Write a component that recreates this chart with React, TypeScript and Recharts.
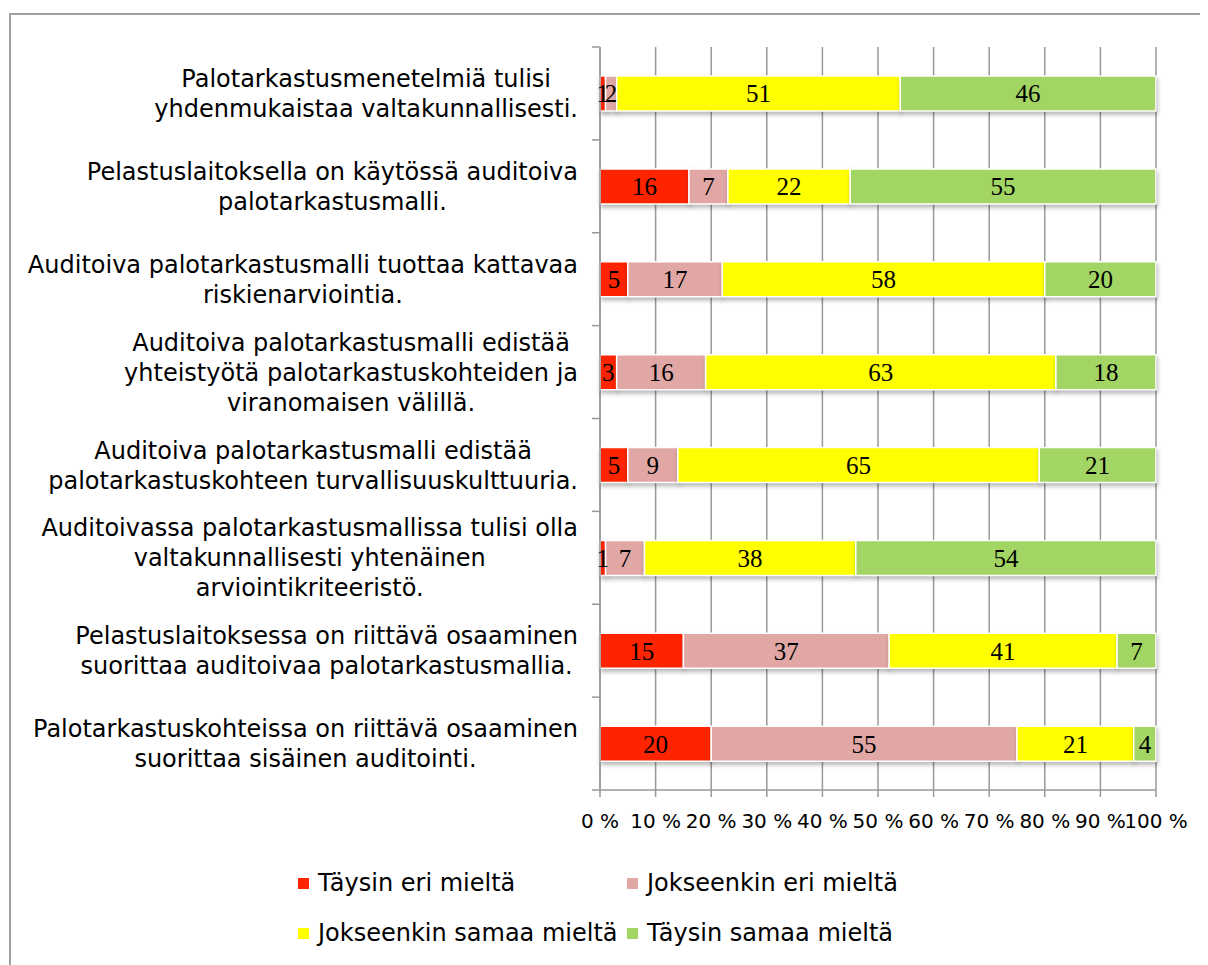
import React from "react";
import { BarChart, Bar, XAxis, YAxis, CartesianGrid, LabelList } from "recharts";

// väittämät (rivinvaihdot kuten alkuperäisessä kuvassa)
const categories = [
  "Palotarkastusmenetelmiä tulisi\nyhdenmukaistaa valtakunnallisesti.",
  "Pelastuslaitoksella on käytössä auditoiva\npalotarkastusmalli.",
  "Auditoiva palotarkastusmalli tuottaa kattavaa\nriskienarviointia.",
  "Auditoiva palotarkastusmalli edistää\nyhteistyötä palotarkastuskohteiden ja\nviranomaisen välillä.",
  "Auditoiva palotarkastusmalli edistää\npalotarkastuskohteen turvallisuuskulttuuria.",
  "Auditoivassa palotarkastusmallissa tulisi olla\nvaltakunnallisesti yhtenäinen\narviointikriteeristö.",
  "Pelastuslaitoksessa on riittävä osaaminen\nsuorittaa auditoivaa palotarkastusmallia.",
  "Palotarkastuskohteissa on riittävä osaaminen\nsuorittaa sisäinen auditointi.",
];

const taysinEri = [1, 16, 5, 3, 5, 1, 15, 20];
const jokseenkinEri = [2, 7, 17, 16, 9, 7, 37, 55];
const jokseenkinSamaa = [51, 22, 58, 63, 65, 38, 41, 21];
const taysinSamaa = [46, 55, 20, 18, 21, 54, 7, 4];

const seriesNames = [
  "Täysin eri mieltä",
  "Jokseenkin eri mieltä",
  "Jokseenkin samaa mieltä",
  "Täysin samaa mieltä",
];
const seriesKeys = ["te", "je", "js", "ts"];
const seriesColors = ["#FF2400", "#E0A7A5", "#FFFF00", "#A2D563"];

const xTicks = [0, 10, 20, 30, 40, 50, 60, 70, 80, 90, 100];

const data = categories.map((name, i) => ({
  name,
  te: taysinEri[i],
  je: jokseenkinEri[i],
  js: jokseenkinSamaa[i],
  ts: taysinSamaa[i],
}));

const SANS = '"DejaVu Sans", Verdana, sans-serif';
const SERIF = '"Liberation Serif", "Times New Roman", serif';
const AXIS = "#999999";
const LABEL_SIZE = 24;
const LINE_H = 30;
const PLOT_LEFT = 592; // y-akselin kohta (chart coords)
const TEXT_RIGHT = 570;

let ctx: CanvasRenderingContext2D | null = null;
function textWidth(s: string) {
  if (!ctx) ctx = document.createElement("canvas").getContext("2d");
  if (!ctx) return s.length * 12;
  ctx.font = `${LABEL_SIZE}px ${SANS}`;
  return ctx.measureText(s).width;
}

function CategoryTick(props: any) {
  const { y, payload, index, visibleTicksCount } = props;
  const lines = String(payload.value).split("\n");
  const maxW = Math.max(...lines.map(textWidth));
  const cx = TEXT_RIGHT - maxW / 2;
  const half = payload.offset || 46.4;
  const top = y - ((lines.length - 1) * LINE_H) / 2;
  return (
    <g>
      <line x1={PLOT_LEFT - 8} x2={PLOT_LEFT} y1={y - half} y2={y - half} stroke={AXIS} strokeWidth={1.5} />
      {index === visibleTicksCount - 1 && (
        <line x1={PLOT_LEFT - 8} x2={PLOT_LEFT} y1={y + half} y2={y + half} stroke={AXIS} strokeWidth={1.5} />
      )}
      <text textAnchor="middle" fontFamily={SANS} fontSize={LABEL_SIZE} fill="#000">
        {lines.map((l, i) => (
          <tspan key={i} x={cx} y={top + i * LINE_H} dy="0.36em">
            {l}
          </tspan>
        ))}
      </text>
    </g>
  );
}

function Legend() {
  const cols = [290, 619];
  const rows = [875, 925];
  return (
    <>
      {seriesNames.map((n, i) => (
        <div
          key={n}
          style={{
            position: "absolute",
            left: cols[i % 2],
            top: rows[Math.floor(i / 2)] - 14,
            height: 28,
            display: "flex",
            alignItems: "center",
            fontFamily: SANS,
            fontSize: 24,
            color: "#000",
            whiteSpace: "nowrap",
          }}
        >
          <span style={{ width: 11, height: 11, background: seriesColors[i], marginRight: 9, display: "inline-block" }} />
          {n}
        </div>
      ))}
    </>
  );
}

export default function App() {
  return (
    <div style={{ position: "relative", width: 1200, height: 957 }}>
      <style>{`.shadowed .recharts-bar-rectangle path { filter: drop-shadow(1px 3px 2px rgba(0,0,0,0.28)); }`}</style>
      <div
        style={{
          position: "absolute",
          left: 1,
          top: 5,
          width: 1199,
          height: 952,
          borderTop: "2px solid #a0a0a0",
          borderLeft: "2px solid #a0a0a0",
          boxSizing: "border-box",
        }}
      />
      <div style={{ position: "absolute", left: 0, top: 0 }} className="shadowed">
        <BarChart
          width={1200}
          height={940}
          data={data}
          layout="vertical"
          margin={{ top: 39, right: 52, left: 0, bottom: 118 }}
          barSize={35}
        >
          <CartesianGrid horizontal={false} stroke={AXIS} strokeWidth={1.5} />
          <XAxis
            type="number"
            domain={[0, 100]}
            ticks={xTicks}
            interval={0}
            height={40}
            tickFormatter={(v: number) => `${v} %`}
            axisLine={{ stroke: AXIS, strokeWidth: 1.5 }}
            tickLine={{ stroke: AXIS, strokeWidth: 1.5 }}
            tickSize={7}
            tickMargin={17}
            tick={{ fill: "#000", fontFamily: SANS, fontSize: 20 }}
          />
          <YAxis
            type="category"
            dataKey="name"
            width={PLOT_LEFT}
            interval={0}
            axisLine={{ stroke: AXIS, strokeWidth: 1.5 }}
            tickLine={false}
            tick={<CategoryTick />}
          />
          {seriesKeys.map((k, i) => (
            <Bar
              key={k}
              dataKey={k}
              name={seriesNames[i]}
              stackId="a"
              fill={seriesColors[i]}
              stroke="#ffffff"
              strokeWidth={1.5}
              isAnimationActive={false}
            >
              <LabelList dataKey={k} position="center" fill="#000" fontFamily={SERIF} fontSize={25} />
            </Bar>
          ))}
        </BarChart>
      </div>
      <Legend />
    </div>
  );
}
